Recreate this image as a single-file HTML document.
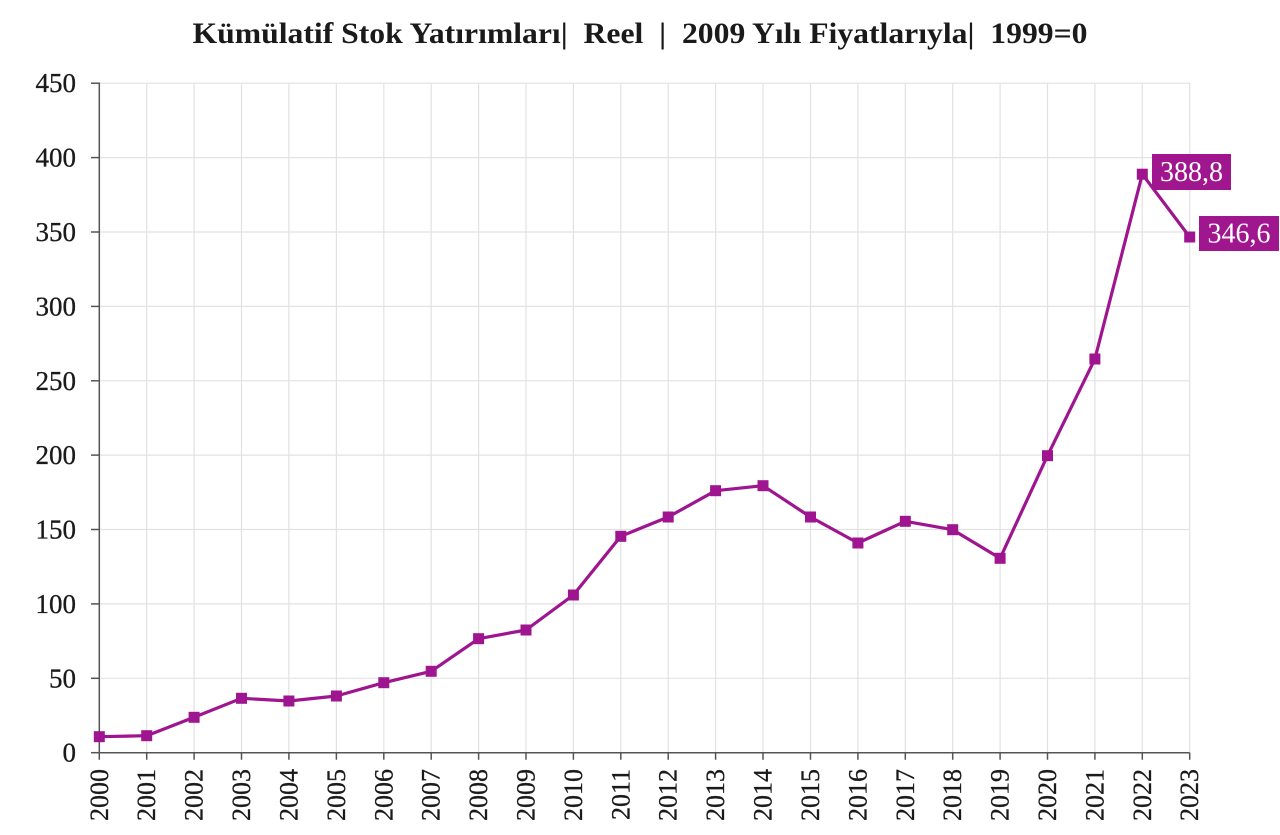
<!DOCTYPE html>
<html><head><meta charset="utf-8"><style>
html,body{margin:0;padding:0;background:#fff;}
svg{display:block;font-family:"Liberation Serif",serif;}
</style></head><body>
<svg width="1280" height="835" viewBox="0 0 1280 835" xmlns="http://www.w3.org/2000/svg">
<rect width="1280" height="835" fill="#fff"/>
<text x="640" y="43" text-anchor="middle" font-size="30" font-weight="bold" fill="#1a1a1a" textLength="895" lengthAdjust="spacingAndGlyphs">Kümülatif Stok Yatırımları|&#160; Reel &#160;|&#160; 2009 Yılı Fiyatlarıyla|&#160; 1999=0</text>
<g stroke="#e2e2e2" stroke-width="1.2">
<line x1="99.3" y1="678.3" x2="1189.7" y2="678.3"/>
<line x1="99.3" y1="603.9" x2="1189.7" y2="603.9"/>
<line x1="99.3" y1="529.5" x2="1189.7" y2="529.5"/>
<line x1="99.3" y1="455.1" x2="1189.7" y2="455.1"/>
<line x1="99.3" y1="380.8" x2="1189.7" y2="380.8"/>
<line x1="99.3" y1="306.4" x2="1189.7" y2="306.4"/>
<line x1="99.3" y1="232.0" x2="1189.7" y2="232.0"/>
<line x1="99.3" y1="157.6" x2="1189.7" y2="157.6"/>
<line x1="99.3" y1="83.2" x2="1189.7" y2="83.2"/>
<line x1="146.7" y1="83.2" x2="146.7" y2="752.7"/>
<line x1="194.1" y1="83.2" x2="194.1" y2="752.7"/>
<line x1="241.5" y1="83.2" x2="241.5" y2="752.7"/>
<line x1="288.9" y1="83.2" x2="288.9" y2="752.7"/>
<line x1="336.4" y1="83.2" x2="336.4" y2="752.7"/>
<line x1="383.8" y1="83.2" x2="383.8" y2="752.7"/>
<line x1="431.2" y1="83.2" x2="431.2" y2="752.7"/>
<line x1="478.6" y1="83.2" x2="478.6" y2="752.7"/>
<line x1="526.0" y1="83.2" x2="526.0" y2="752.7"/>
<line x1="573.4" y1="83.2" x2="573.4" y2="752.7"/>
<line x1="620.8" y1="83.2" x2="620.8" y2="752.7"/>
<line x1="668.2" y1="83.2" x2="668.2" y2="752.7"/>
<line x1="715.6" y1="83.2" x2="715.6" y2="752.7"/>
<line x1="763.0" y1="83.2" x2="763.0" y2="752.7"/>
<line x1="810.5" y1="83.2" x2="810.5" y2="752.7"/>
<line x1="857.9" y1="83.2" x2="857.9" y2="752.7"/>
<line x1="905.3" y1="83.2" x2="905.3" y2="752.7"/>
<line x1="952.7" y1="83.2" x2="952.7" y2="752.7"/>
<line x1="1000.1" y1="83.2" x2="1000.1" y2="752.7"/>
<line x1="1047.5" y1="83.2" x2="1047.5" y2="752.7"/>
<line x1="1094.9" y1="83.2" x2="1094.9" y2="752.7"/>
<line x1="1142.3" y1="83.2" x2="1142.3" y2="752.7"/>
<line x1="1189.7" y1="83.2" x2="1189.7" y2="752.7"/>
</g>
<g stroke="#555" stroke-width="1.5" fill="none">
<line x1="99.3" y1="82.5" x2="99.3" y2="753"/>
<line x1="99" y1="752.7" x2="1189.7" y2="752.7"/>
<line x1="91" y1="752.7" x2="99.3" y2="752.7"/>
<line x1="91" y1="678.3" x2="99.3" y2="678.3"/>
<line x1="91" y1="603.9" x2="99.3" y2="603.9"/>
<line x1="91" y1="529.5" x2="99.3" y2="529.5"/>
<line x1="91" y1="455.1" x2="99.3" y2="455.1"/>
<line x1="91" y1="380.8" x2="99.3" y2="380.8"/>
<line x1="91" y1="306.4" x2="99.3" y2="306.4"/>
<line x1="91" y1="232.0" x2="99.3" y2="232.0"/>
<line x1="91" y1="157.6" x2="99.3" y2="157.6"/>
<line x1="91" y1="83.2" x2="99.3" y2="83.2"/>
<path d="M99.3 752.7v7M146.7 752.7v7M194.1 752.7v7M241.5 752.7v7M288.9 752.7v7M336.4 752.7v7M383.8 752.7v7M431.2 752.7v7M478.6 752.7v7M526.0 752.7v7M573.4 752.7v7M620.8 752.7v7M668.2 752.7v7M715.6 752.7v7M763.0 752.7v7M810.5 752.7v7M857.9 752.7v7M905.3 752.7v7M952.7 752.7v7M1000.1 752.7v7M1047.5 752.7v7M1094.9 752.7v7M1142.3 752.7v7M1189.7 752.7v7"/>
</g>
<g font-size="27" fill="#1a1a1a" text-anchor="end" dominant-baseline="central" stroke="#1a1a1a" stroke-width="0.3">
<text x="76" y="752.7">0</text>
<text x="76" y="678.3">50</text>
<text x="76" y="603.9">100</text>
<text x="76" y="529.5">150</text>
<text x="76" y="455.1">200</text>
<text x="76" y="380.8">250</text>
<text x="76" y="306.4">300</text>
<text x="76" y="232.0">350</text>
<text x="76" y="157.6">400</text>
<text x="76" y="83.2">450</text>
</g>
<g font-size="26" fill="#1a1a1a" text-anchor="end" dominant-baseline="central" stroke="#1a1a1a" stroke-width="0.3">
<text transform="translate(99.3,769) rotate(-90)">2000</text>
<text transform="translate(146.7,769) rotate(-90)">2001</text>
<text transform="translate(194.1,769) rotate(-90)">2002</text>
<text transform="translate(241.5,769) rotate(-90)">2003</text>
<text transform="translate(288.9,769) rotate(-90)">2004</text>
<text transform="translate(336.4,769) rotate(-90)">2005</text>
<text transform="translate(383.8,769) rotate(-90)">2006</text>
<text transform="translate(431.2,769) rotate(-90)">2007</text>
<text transform="translate(478.6,769) rotate(-90)">2008</text>
<text transform="translate(526.0,769) rotate(-90)">2009</text>
<text transform="translate(573.4,769) rotate(-90)">2010</text>
<text transform="translate(620.8,769) rotate(-90)">2011</text>
<text transform="translate(668.2,769) rotate(-90)">2012</text>
<text transform="translate(715.6,769) rotate(-90)">2013</text>
<text transform="translate(763.0,769) rotate(-90)">2014</text>
<text transform="translate(810.5,769) rotate(-90)">2015</text>
<text transform="translate(857.9,769) rotate(-90)">2016</text>
<text transform="translate(905.3,769) rotate(-90)">2017</text>
<text transform="translate(952.7,769) rotate(-90)">2018</text>
<text transform="translate(1000.1,769) rotate(-90)">2019</text>
<text transform="translate(1047.5,769) rotate(-90)">2020</text>
<text transform="translate(1094.9,769) rotate(-90)">2021</text>
<text transform="translate(1142.3,769) rotate(-90)">2022</text>
<text transform="translate(1189.7,769) rotate(-90)">2023</text>
</g>
<polyline fill="none" stroke="#9e158f" stroke-width="3.2" stroke-linejoin="round" points="99.3,736.7 146.7,735.7 194.1,717.3 241.5,698.3 288.9,701.0 336.4,696.0 383.8,682.7 431.2,671.3 478.6,638.7 526.0,630.0 573.4,595.0 620.8,536.3 668.2,517.0 715.6,490.7 763.0,485.7 810.5,517.0 857.9,543.0 905.3,521.3 952.7,529.7 1000.1,558.3 1047.5,455.7 1094.9,359.0 1142.3,174.2 1189.7,237.0"/>
<g fill="#9e158f">
<rect x="93.8" y="731.2" width="11" height="11"/>
<rect x="141.2" y="730.2" width="11" height="11"/>
<rect x="188.6" y="711.8" width="11" height="11"/>
<rect x="236.0" y="692.8" width="11" height="11"/>
<rect x="283.4" y="695.5" width="11" height="11"/>
<rect x="330.9" y="690.5" width="11" height="11"/>
<rect x="378.3" y="677.2" width="11" height="11"/>
<rect x="425.7" y="665.8" width="11" height="11"/>
<rect x="473.1" y="633.2" width="11" height="11"/>
<rect x="520.5" y="624.5" width="11" height="11"/>
<rect x="567.9" y="589.5" width="11" height="11"/>
<rect x="615.3" y="530.8" width="11" height="11"/>
<rect x="662.7" y="511.5" width="11" height="11"/>
<rect x="710.1" y="485.2" width="11" height="11"/>
<rect x="757.5" y="480.2" width="11" height="11"/>
<rect x="805.0" y="511.5" width="11" height="11"/>
<rect x="852.4" y="537.5" width="11" height="11"/>
<rect x="899.8" y="515.8" width="11" height="11"/>
<rect x="947.2" y="524.2" width="11" height="11"/>
<rect x="994.6" y="552.8" width="11" height="11"/>
<rect x="1042.0" y="450.2" width="11" height="11"/>
<rect x="1089.4" y="353.5" width="11" height="11"/>
<rect x="1136.8" y="168.7" width="11" height="11"/>
<rect x="1184.2" y="231.5" width="11" height="11"/>
</g>
<rect x="1152" y="154" width="79" height="36" fill="#a0168e"/>
<text x="1191.5" y="172.5" font-size="28" fill="#fff" text-anchor="middle" dominant-baseline="central">388,8</text>
<rect x="1199" y="216" width="80" height="35" fill="#a0168e"/>
<text x="1239" y="234" font-size="28" fill="#fff" text-anchor="middle" dominant-baseline="central">346,6</text>
</svg>
</body></html>
